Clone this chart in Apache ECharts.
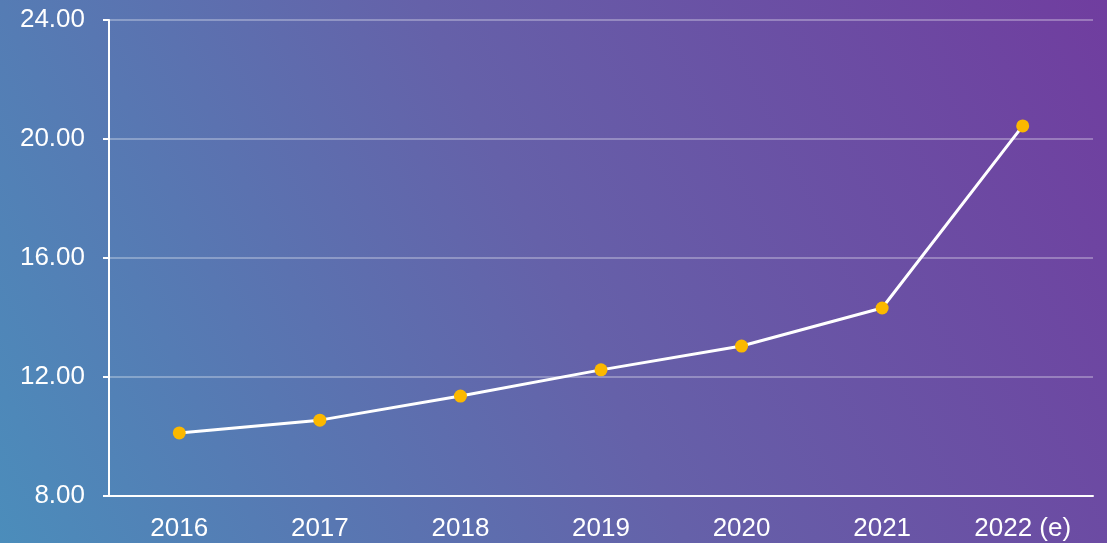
<!DOCTYPE html>
<html>
<head>
<meta charset="utf-8">
<script src="https://cdn.jsdelivr.net/npm/echarts@6/dist/echarts.min.js"></script>
<style>
  html, body { margin: 0; padding: 0; }
  #chart { width: 1107px; height: 543px; }
</style>
</head>
<body>
<div id="chart"></div>
<script>
const years = ['2016', '2017', '2018', '2019', '2020', '2021', '2022 (e)']
const values = [10.12, 10.55, 11.36, 12.24, 13.04, 14.32, 20.44]

const chart = echarts.init(document.getElementById('chart'))
const option = {
  backgroundColor: {
    type: 'linear',
    x: 0,
    y: 1,
    x2: 1,
    y2: 0,
    colorStops: [
      { offset: 0, color: '#4b8dbb' },
      { offset: 0.5, color: '#6561a9' },
      { offset: 1, color: '#703d9f' }
    ]
  },
  textStyle: {
    fontFamily: 'Liberation Sans, Arial, sans-serif'
  },
  grid: {
    top: 20,
    left: 109,
    right: 14,
    bottom: 47
  },
  xAxis: {
    type: 'category',
    data: years,
    boundaryGap: true,
    axisLine: {
      lineStyle: { color: '#fff', width: 2 }
    },
    axisTick: {
      alignWithLabel: true,
      length: 6,
      lineStyle: { color: '#fff', width: 2 }
    },
    axisLabel: {
      color: '#fff',
      fontSize: 26,
      margin: 20
    }
  },
  yAxis: {
    type: 'value',
    min: 8,
    max: 24,
    interval: 4,
    axisLine: {
      show: true,
      lineStyle: { color: '#fff', width: 2 }
    },
    axisTick: {
      show: true,
      length: 6,
      lineStyle: { color: '#fff', width: 2 }
    },
    axisLabel: {
      color: '#fff',
      fontSize: 26,
      margin: 24,
      formatter: (v) => v.toFixed(2)
    },
    splitLine: {
      lineStyle: { color: 'rgba(255,255,255,0.4)', width: 1.5 }
    }
  },
  series: [
    {
      type: 'line',
      data: values,
      symbol: 'circle',
      symbolSize: 13,
      lineStyle: { color: '#fff', width: 3 },
      itemStyle: { color: '#fbb800' },
      z: 3
    }
  ]
}
chart.setOption(option)
</script>
</body>
</html>
